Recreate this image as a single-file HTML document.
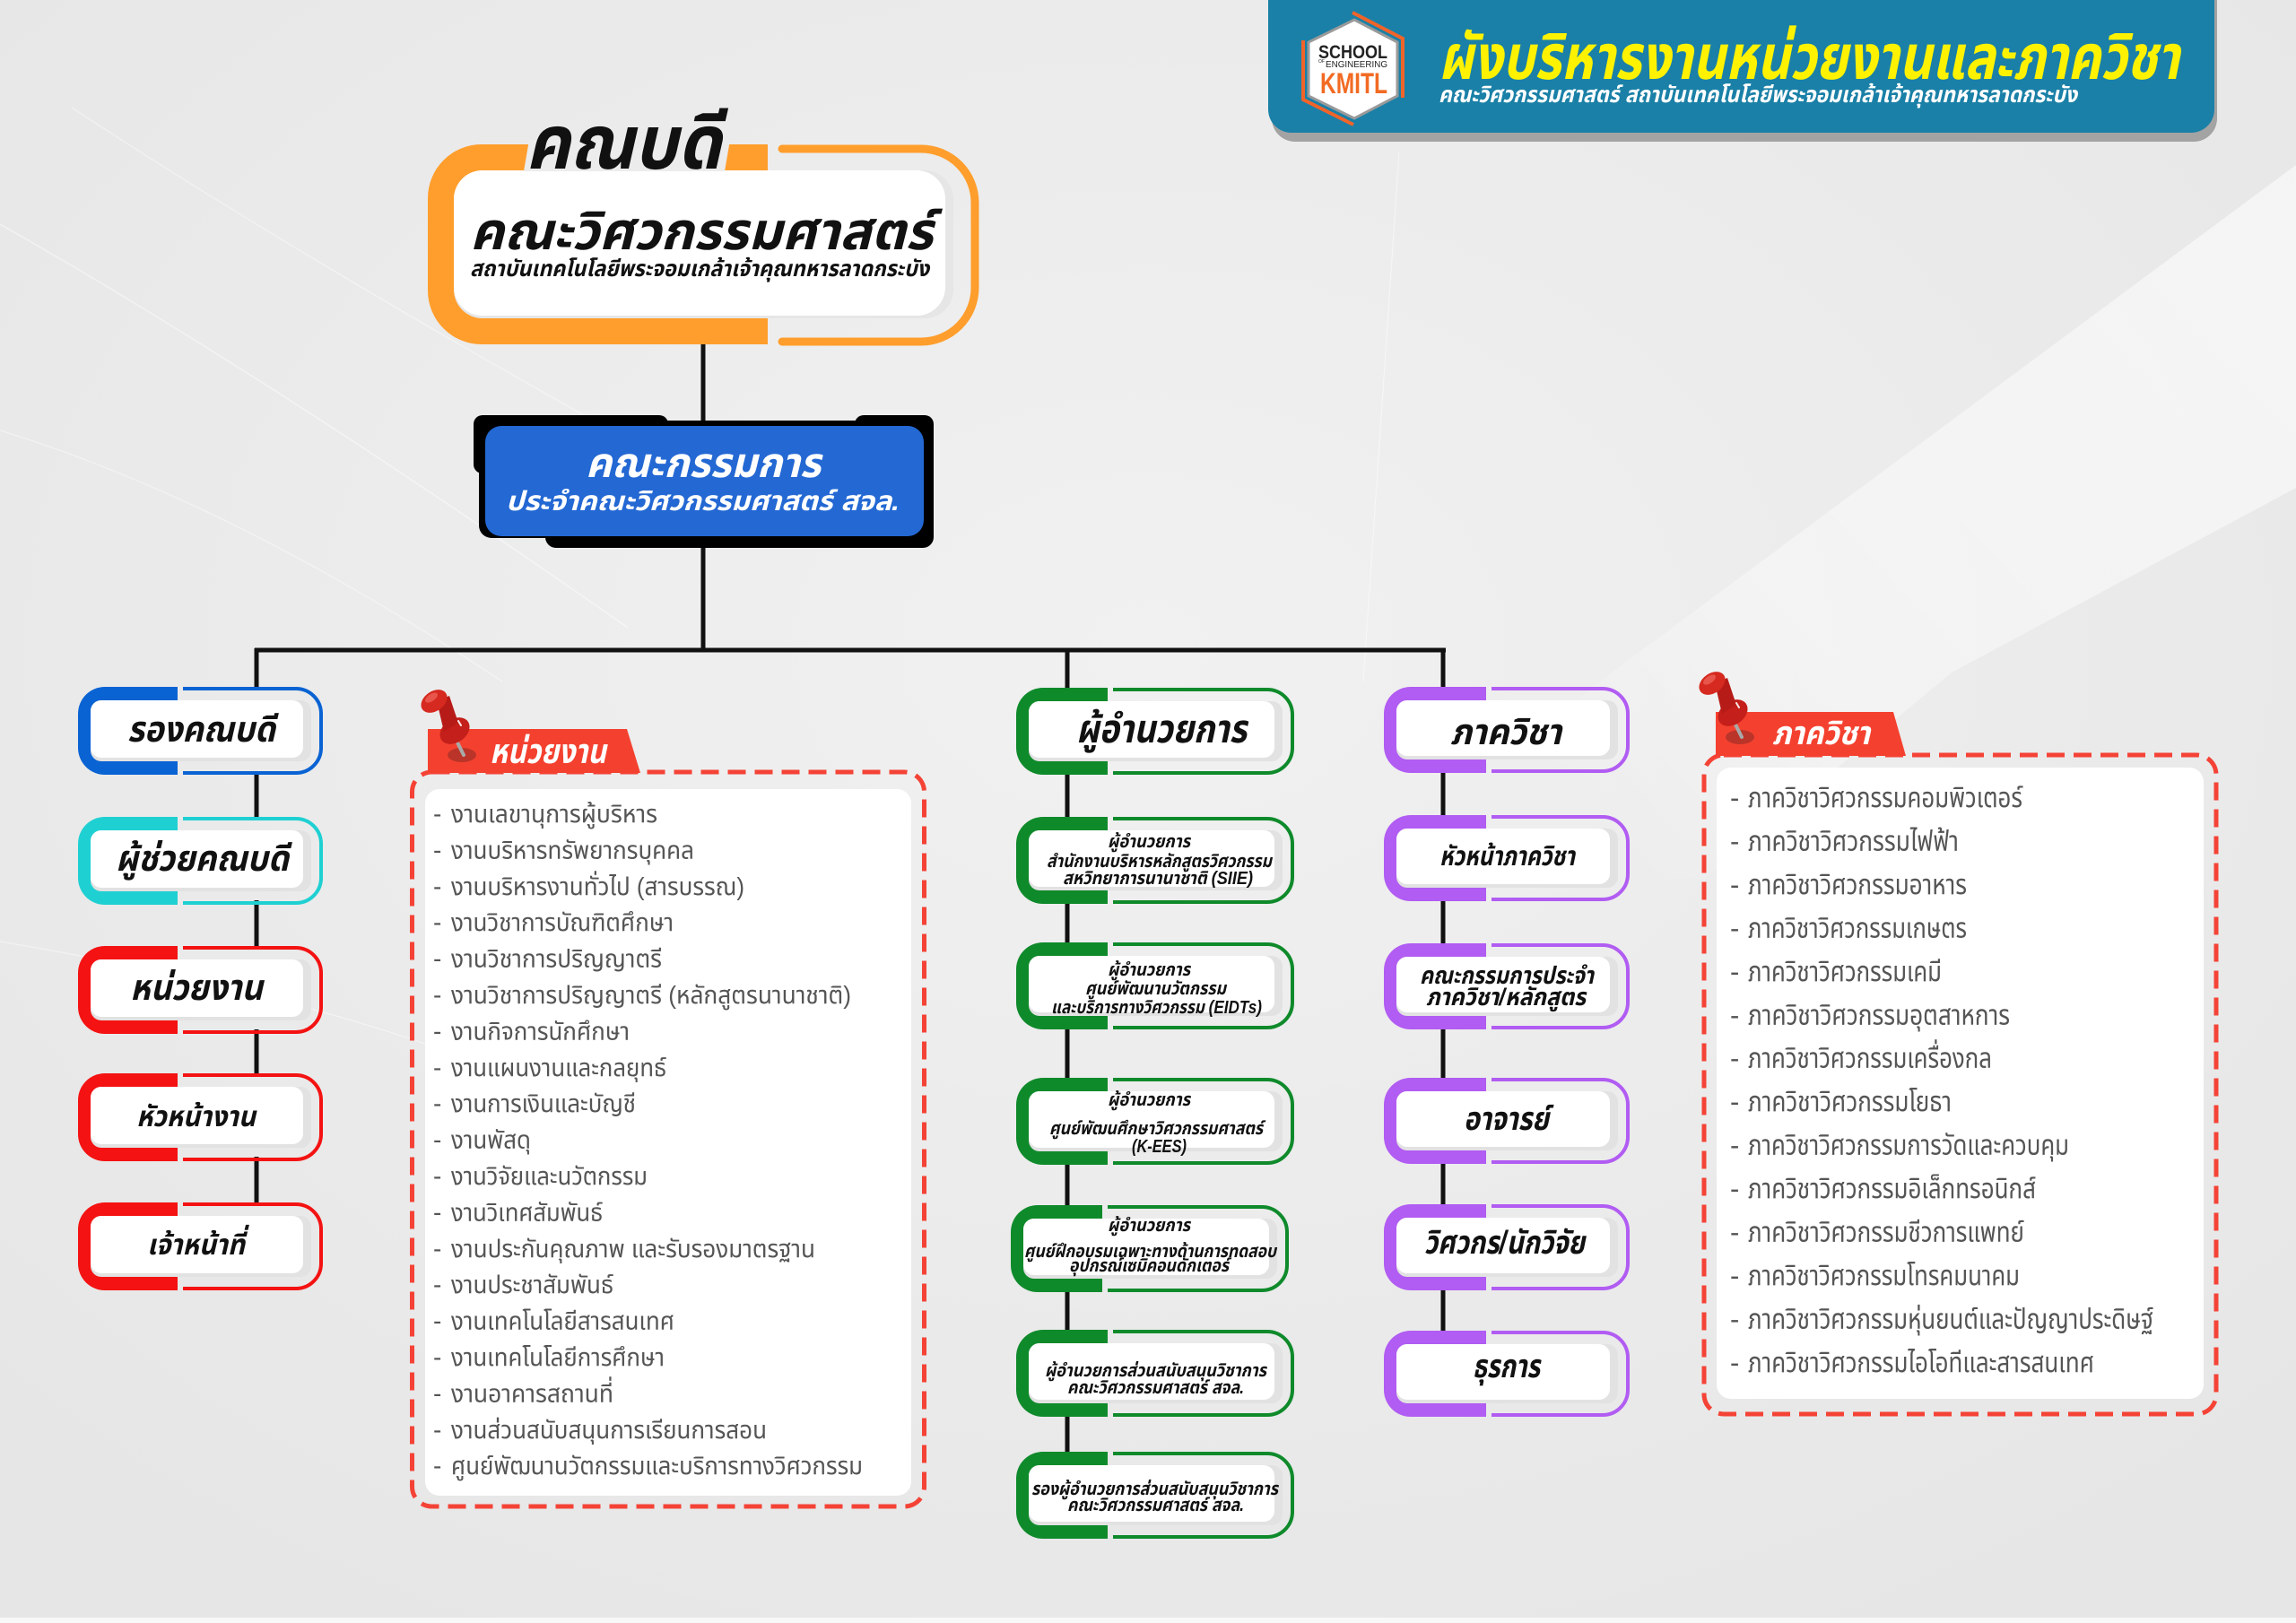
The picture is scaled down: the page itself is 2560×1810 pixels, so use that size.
<!DOCTYPE html>
<html lang="th">
<head>
<meta charset="utf-8">
<title>ผังบริหารงานหน่วยงานและภาควิชา</title>
<style>
  html,body{margin:0;padding:0;background:#ebebeb;}
  body{width:2560px;height:1810px;overflow:hidden;}
  svg{display:block;}
  .t{font-family:"Liberation Sans","Noto Sans Thai","Noto Sans Thai UI","Noto Looped Thai","Sarabun","Kanit","Garuda","Loma","Umpush","Tlwg Typo","Waree","Kinnari","Norasi","Laksaman","DejaVu Sans",sans-serif;}
  .b{font-weight:bold;font-style:italic;fill:#111;}
  .w{font-weight:bold;font-style:italic;fill:#fff;}
  .li{font-weight:normal;fill:#555;font-size:28px;}
  .ri{font-weight:normal;fill:#555;font-size:31px;}
</style>
</head>
<body>
<svg width="2560" height="1810" viewBox="0 0 2560 1810" xmlns="http://www.w3.org/2000/svg">
<defs>
  <radialGradient id="bgG" cx="0.5" cy="0.4" r="0.7">
    <stop offset="0" stop-color="#f1f1f1"/>
    <stop offset="1" stop-color="#e6e6e6"/>
  </radialGradient>
  <linearGradient id="bandG" gradientUnits="userSpaceOnUse" x1="2450" y1="250" x2="1750" y2="900">
    <stop offset="0" stop-color="#ffffff" stop-opacity="0.55"/>
    <stop offset="0.7" stop-color="#ffffff" stop-opacity="0.35"/>
    <stop offset="1" stop-color="#ffffff" stop-opacity="0"/>
  </linearGradient>
  <g id="boxL">
    <path d="M111 0 H30 A30 30 0 0 0 0 30 V68 A30 30 0 0 0 30 98 H111 Z" fill="currentColor"/>
    <path d="M117 2 H243 A28 28 0 0 1 271 30 V68 A28 28 0 0 1 243 96 H117" fill="none" stroke="currentColor" stroke-width="4"/>
    <rect x="14" y="15" width="246" height="68" rx="12" fill="#e2e2e2"/>
    <rect x="14" y="15" width="237" height="64" rx="12" fill="#fff"/>
  </g>
  <g id="boxD">
    <path d="M102 0 H30 A30 30 0 0 0 0 30 V67 A30 30 0 0 0 30 97 H102 Z" fill="currentColor"/>
    <path d="M108 2 H280 A28 28 0 0 1 308 30 V67 A28 28 0 0 1 280 95 H108" fill="none" stroke="currentColor" stroke-width="4"/>
    <rect x="14" y="15" width="283" height="67" rx="12" fill="#e2e2e2"/>
    <rect x="14" y="15" width="274" height="63" rx="12" fill="#fff"/>
  </g>
  <g id="boxP">
    <path d="M114 0 H30 A30 30 0 0 0 0 30 V66 A30 30 0 0 0 30 96 H114 Z" fill="currentColor"/>
    <path d="M120 2 H244 A28 28 0 0 1 272 30 V66 A28 28 0 0 1 244 94 H120" fill="none" stroke="currentColor" stroke-width="4"/>
    <rect x="14" y="15" width="247" height="66" rx="12" fill="#e2e2e2"/>
    <rect x="14" y="15" width="238" height="62" rx="12" fill="#fff"/>
  </g>
  <g id="pin">
    <ellipse cx="-2" cy="0" rx="16" ry="8" fill="#8a2a24" opacity="0.55"/>
    <line x1="0" y1="0" x2="-8" y2="-16" stroke="#a9a9a9" stroke-width="4" stroke-linecap="round"/>
    <ellipse cx="-10" cy="-27" rx="18" ry="13" transform="rotate(-35 -10 -27)" fill="#c41f1a"/>
    <path d="M-30 -60 L-16 -66 L-6 -36 L-22 -26 Z" fill="#b71b17"/>
    <ellipse cx="-33" cy="-60" rx="16" ry="11" transform="rotate(-35 -33 -60)" fill="#d6291f"/>
    <ellipse cx="-36" cy="-64" rx="8" ry="4" transform="rotate(-35 -36 -64)" fill="#e8554a"/>
    <line x1="-6" y1="-38" x2="-3" y2="-33" stroke="#fff" stroke-width="2" stroke-linecap="round" opacity="0.9"/>
  </g>
</defs>

<!-- background -->
<rect x="0" y="0" width="2560" height="1810" fill="url(#bgG)"/>
<polygon points="2560,184 1797,750 1500,980 1900,980 2176,750 2560,544" fill="url(#bandG)"/>
<g stroke="#ffffff" fill="none" opacity="0.45">
  <path d="M0 250 Q300 420 700 700" stroke-width="1.5"/>
  <path d="M0 480 Q260 560 560 760" stroke-width="1.2"/>
  <path d="M80 120 Q400 330 900 600" stroke-width="1.2"/>
  <path d="M0 1050 Q300 1100 520 1180" stroke-width="1.2"/>
  <path d="M1560 170 L1520 760" stroke-width="1.2"/>
</g>
<rect x="0" y="1804" width="2560" height="6" fill="#f8f8f8"/>

<!-- header -->
<rect x="1418" y="-40" width="1054" height="198" rx="26" fill="#a3a3a3"/>
<rect x="1414" y="-40" width="1055" height="188" rx="26" fill="#1a80a7"/>
<polygon points="1510,22 1558,47 1558,107 1510,132 1459,107 1459,47" fill="#fff" stroke="#9a9a9a" stroke-width="3"/>
<polyline points="1508,14 1564,43 1564,109" fill="none" stroke="#f0642a" stroke-width="4"/>
<polyline points="1453,45 1453,111 1509,139" fill="none" stroke="#f0642a" stroke-width="4"/>
<text class="t" x="1470" y="65" font-size="21" font-weight="bold" fill="#222" textLength="77" lengthAdjust="spacingAndGlyphs">SCHOOL</text>
<text class="t" x="1470" y="70" font-size="5" fill="#222">OF</text>
<text class="t" x="1478" y="75" font-size="10" fill="#222" textLength="69" lengthAdjust="spacingAndGlyphs">ENGINEERING</text>
<text class="t" x="1472" y="104" font-size="32" font-weight="bold" fill="#f26a23" textLength="75" lengthAdjust="spacingAndGlyphs">KMITL</text>
<text class="t" x="1604" y="88" font-size="70" font-weight="bold" font-style="italic" fill="#fff200" textLength="826" lengthAdjust="spacingAndGlyphs">ผังบริหารงานหน่วยงานและภาควิชา</text>
<text class="t w" x="1604" y="114" font-size="25" textLength="712" lengthAdjust="spacingAndGlyphs">คณะวิศวกรรมศาสตร์ สถาบันเทคโนโลยีพระจอมเกล้าเจ้าคุณทหารลาดกระบัง</text>

<!-- connectors -->
<g stroke="#111" stroke-width="5" fill="none">
  <line x1="784" y1="380" x2="784" y2="470"/>
  <line x1="784" y1="605" x2="784" y2="727"/>
  <line x1="284" y1="725" x2="1612" y2="725"/>
  <!-- left column segments -->
  <line x1="286" y1="723" x2="286" y2="770"/>
  <line x1="286" y1="860" x2="286" y2="915"/>
  <line x1="286" y1="1004" x2="286" y2="1059"/>
  <line x1="286" y1="1148" x2="286" y2="1201"/>
  <line x1="286" y1="1290" x2="286" y2="1345"/>
  <!-- director column segments -->
  <line x1="1190" y1="723" x2="1190" y2="771"/>
  <line x1="1190" y1="860" x2="1190" y2="915"/>
  <line x1="1190" y1="1004" x2="1190" y2="1055"/>
  <line x1="1190" y1="1144" x2="1190" y2="1206"/>
  <line x1="1190" y1="1295" x2="1190" y2="1348"/>
  <line x1="1190" y1="1437" x2="1190" y2="1487"/>
  <line x1="1190" y1="1576" x2="1190" y2="1623"/>
  <!-- department column segments -->
  <line x1="1609" y1="723" x2="1609" y2="770"/>
  <line x1="1609" y1="858" x2="1609" y2="913"/>
  <line x1="1609" y1="1001" x2="1609" y2="1056"/>
  <line x1="1609" y1="1144" x2="1609" y2="1206"/>
  <line x1="1609" y1="1294" x2="1609" y2="1347"/>
  <line x1="1609" y1="1435" x2="1609" y2="1488"/>
</g>

<!-- Dean box -->
<path d="M856 161 H537 A60 60 0 0 0 477 221 V324 A60 60 0 0 0 537 384 H856 Z" fill="#ff9e2c"/>
<path d="M872 166 H1027 A60 60 0 0 1 1087 226 V321 A60 60 0 0 1 1027 381 H872" fill="none" stroke="#ff9e2c" stroke-width="9" stroke-linecap="round"/>
<rect x="506" y="190" width="557" height="165" rx="32" fill="#e6e6e6"/>
<rect x="506" y="190" width="548" height="162" rx="32" fill="#fff"/>
<polygon points="590,156 814,156 808,191 584,191" fill="#ececec"/>
<text class="t b" x="586" y="188" font-size="84" textLength="218" lengthAdjust="spacingAndGlyphs">คณบดี</text>
<text class="t b" x="524" y="278" font-size="58" textLength="516" lengthAdjust="spacingAndGlyphs">คณะวิศวกรรมศาสตร์</text>
<text class="t b" x="524" y="308" font-size="25" textLength="512" lengthAdjust="spacingAndGlyphs">สถาบันเทคโนโลยีพระจอมเกล้าเจ้าคุณทหารลาดกระบัง</text>

<!-- Committee box -->
<rect x="534" y="469" width="507" height="131" rx="14" fill="#000"/>
<rect x="528" y="463" width="217" height="65" rx="10" fill="#000"/>
<rect x="953" y="463" width="88" height="60" rx="10" fill="#000"/>
<rect x="608" y="560" width="433" height="51" rx="12" fill="#000"/>
<rect x="541" y="475" width="489" height="123" rx="18" fill="#2368d3"/>
<text class="t w" x="653" y="532" font-size="46" textLength="262" lengthAdjust="spacingAndGlyphs">คณะกรรมการ</text>
<text class="t w" x="564" y="569" font-size="30" textLength="439" lengthAdjust="spacingAndGlyphs">ประจำคณะวิศวกรรมศาสตร์ สจล.</text>

<!-- Left column -->
<use href="#boxL" x="87" y="766" style="color:#0a63d3"/>
<use href="#boxL" x="87" y="911" style="color:#1fd0d2"/>
<use href="#boxL" x="87" y="1055" style="color:#f41212"/>
<use href="#boxL" x="87" y="1197" style="color:#f41212"/>
<use href="#boxL" x="87" y="1341" style="color:#f41212"/>
<text class="t b" x="142" y="827" font-size="40" textLength="165" lengthAdjust="spacingAndGlyphs">รองคณบดี</text>
<text class="t b" x="129" y="971" font-size="40" textLength="193" lengthAdjust="spacingAndGlyphs">ผู้ช่วยคณบดี</text>
<text class="t b" x="145" y="1115" font-size="40" textLength="148" lengthAdjust="spacingAndGlyphs">หน่วยงาน</text>
<text class="t b" x="152" y="1256" font-size="32" textLength="133" lengthAdjust="spacingAndGlyphs">หัวหน้างาน</text>
<text class="t b" x="164" y="1399" font-size="32" textLength="109" lengthAdjust="spacingAndGlyphs">เจ้าหน้าที่</text>

<!-- Units panel -->
<rect x="459.5" y="861" width="571" height="819" rx="22" fill="none" stroke="#f44336" stroke-width="5" stroke-dasharray="20 10"/>
<rect x="474" y="880" width="542" height="788" rx="16" fill="#fff"/>
<polygon points="477,813 699,813 714,862 477,862" fill="#f4412f"/>
<use href="#pin" x="517" y="842"/>
<text class="t w" x="546" y="851" font-size="38" textLength="130" lengthAdjust="spacingAndGlyphs">หน่วยงาน</text>

<g class="t li">
<text x="483" y="917">-</text><text x="503" y="917" textLength="230" lengthAdjust="spacingAndGlyphs">งานเลขานุการผู้บริหาร</text>
<text x="483" y="957.4">-</text><text x="503" y="957.4" textLength="271" lengthAdjust="spacingAndGlyphs">งานบริหารทรัพยากรบุคคล</text>
<text x="483" y="997.8">-</text><text x="503" y="997.8" textLength="327" lengthAdjust="spacingAndGlyphs">งานบริหารงานทั่วไป (สารบรรณ)</text>
<text x="483" y="1038.2">-</text><text x="503" y="1038.2" textLength="248" lengthAdjust="spacingAndGlyphs">งานวิชาการบัณฑิตศึกษา</text>
<text x="483" y="1078.6">-</text><text x="503" y="1078.6" textLength="235" lengthAdjust="spacingAndGlyphs">งานวิชาการปริญญาตรี</text>
<text x="483" y="1119">-</text><text x="503" y="1119" textLength="446" lengthAdjust="spacingAndGlyphs">งานวิชาการปริญญาตรี (หลักสูตรนานาชาติ)</text>
<text x="483" y="1159.4">-</text><text x="503" y="1159.4" textLength="199" lengthAdjust="spacingAndGlyphs">งานกิจการนักศึกษา</text>
<text x="483" y="1199.8">-</text><text x="503" y="1199.8" textLength="240" lengthAdjust="spacingAndGlyphs">งานแผนงานและกลยุทธ์</text>
<text x="483" y="1240.2">-</text><text x="503" y="1240.2" textLength="206" lengthAdjust="spacingAndGlyphs">งานการเงินและบัญชี</text>
<text x="483" y="1280.6">-</text><text x="503" y="1280.6" textLength="89" lengthAdjust="spacingAndGlyphs">งานพัสดุ</text>
<text x="483" y="1321">-</text><text x="503" y="1321" textLength="219" lengthAdjust="spacingAndGlyphs">งานวิจัยและนวัตกรรม</text>
<text x="483" y="1361.4">-</text><text x="503" y="1361.4" textLength="169" lengthAdjust="spacingAndGlyphs">งานวิเทศสัมพันธ์</text>
<text x="483" y="1401.8">-</text><text x="503" y="1401.8" textLength="406" lengthAdjust="spacingAndGlyphs">งานประกันคุณภาพ และรับรองมาตรฐาน</text>
<text x="483" y="1442.2">-</text><text x="503" y="1442.2" textLength="181" lengthAdjust="spacingAndGlyphs">งานประชาสัมพันธ์</text>
<text x="483" y="1482.6">-</text><text x="503" y="1482.6" textLength="249" lengthAdjust="spacingAndGlyphs">งานเทคโนโลยีสารสนเทศ</text>
<text x="483" y="1523">-</text><text x="503" y="1523" textLength="238" lengthAdjust="spacingAndGlyphs">งานเทคโนโลยีการศึกษา</text>
<text x="483" y="1563.4">-</text><text x="503" y="1563.4" textLength="181" lengthAdjust="spacingAndGlyphs">งานอาคารสถานที่</text>
<text x="483" y="1603.8">-</text><text x="503" y="1603.8" textLength="352" lengthAdjust="spacingAndGlyphs">งานส่วนสนับสนุนการเรียนการสอน</text>
<text x="483" y="1644.2">-</text><text x="503" y="1644.2" textLength="459" lengthAdjust="spacingAndGlyphs">ศูนย์พัฒนานวัตกรรมและบริการทางวิศวกรรม</text>
</g>

<!-- Director column -->
<use href="#boxD" x="1133" y="767" style="color:#0f8a2b"/>
<use href="#boxD" x="1133" y="911" style="color:#0f8a2b"/>
<use href="#boxD" x="1133" y="1051" style="color:#0f8a2b"/>
<use href="#boxD" x="1133" y="1202" style="color:#0f8a2b"/>
<use href="#boxD" x="1127" y="1344" style="color:#0f8a2b"/>
<use href="#boxD" x="1133" y="1483" style="color:#0f8a2b"/>
<use href="#boxD" x="1133" y="1619" style="color:#0f8a2b"/>

<text class="t b" x="1200" y="828" font-size="44" textLength="190" lengthAdjust="spacingAndGlyphs">ผู้อำนวยการ</text>
<g class="t b" font-size="20">
<text x="1235" y="945" textLength="92" lengthAdjust="spacingAndGlyphs">ผู้อำนวยการ</text>
<text x="1167" y="967" textLength="251" lengthAdjust="spacingAndGlyphs">สำนักงานบริหารหลักสูตรวิศวกรรม</text>
<text x="1185" y="986" textLength="212" lengthAdjust="spacingAndGlyphs">สหวิทยาการนานาชาติ (SIIE)</text>

<text x="1235" y="1088" textLength="92" lengthAdjust="spacingAndGlyphs">ผู้อำนวยการ</text>
<text x="1210" y="1109" textLength="157" lengthAdjust="spacingAndGlyphs">ศูนย์พัฒนานวัตกรรม</text>
<text x="1172" y="1130" textLength="235" lengthAdjust="spacingAndGlyphs">และบริการทางวิศวกรรม (EIDTs)</text>

<text x="1235" y="1233" textLength="92" lengthAdjust="spacingAndGlyphs">ผู้อำนวยการ</text>
<text x="1170" y="1265" textLength="238" lengthAdjust="spacingAndGlyphs">ศูนย์พัฒนศึกษาวิศวกรรมศาสตร์</text>
<text x="1262" y="1285" textLength="61" lengthAdjust="spacingAndGlyphs">(K-EES)</text>

<text x="1235" y="1373" textLength="92" lengthAdjust="spacingAndGlyphs">ผู้อำนวยการ</text>
<text x="1142" y="1402" textLength="281" lengthAdjust="spacingAndGlyphs">ศูนย์ฝึกอบรมเฉพาะทางด้านการทดสอบ</text>
<text x="1192" y="1418" textLength="178" lengthAdjust="spacingAndGlyphs">อุปกรณ์เซมิคอนดักเตอร์</text>

<text x="1165" y="1535" textLength="247" lengthAdjust="spacingAndGlyphs">ผู้อำนวยการส่วนสนับสนุนวิชาการ</text>
<text x="1190" y="1554" textLength="197" lengthAdjust="spacingAndGlyphs">คณะวิศวกรรมศาสตร์ สจล.</text>

<text x="1150" y="1667" textLength="275" lengthAdjust="spacingAndGlyphs">รองผู้อำนวยการส่วนสนับสนุนวิชาการ</text>
<text x="1190" y="1685" textLength="197" lengthAdjust="spacingAndGlyphs">คณะวิศวกรรมศาสตร์ สจล.</text>
</g>

<!-- Department column -->
<use href="#boxP" x="1543" y="766" style="color:#b15cf2"/>
<use href="#boxP" x="1543" y="909" style="color:#b15cf2"/>
<use href="#boxP" x="1543" y="1052" style="color:#b15cf2"/>
<use href="#boxP" x="1543" y="1202" style="color:#b15cf2"/>
<use href="#boxP" x="1543" y="1343" style="color:#b15cf2"/>
<use href="#boxP" x="1543" y="1484" style="color:#b15cf2"/>
<text class="t b" x="1617" y="830" font-size="40" textLength="124" lengthAdjust="spacingAndGlyphs">ภาควิชา</text>
<text class="t b" x="1605" y="965" font-size="30" textLength="151" lengthAdjust="spacingAndGlyphs">หัวหน้าภาควิชา</text>
<text class="t b" x="1583" y="1097" font-size="27" textLength="194" lengthAdjust="spacingAndGlyphs">คณะกรรมการประจำ</text>
<text class="t b" x="1590" y="1121" font-size="27" textLength="178" lengthAdjust="spacingAndGlyphs">ภาควิชา/หลักสูตร</text>
<text class="t b" x="1632" y="1260" font-size="36" textLength="95" lengthAdjust="spacingAndGlyphs">อาจารย์</text>
<text class="t b" x="1588" y="1398" font-size="36" textLength="179" lengthAdjust="spacingAndGlyphs">วิศวกร/นักวิจัย</text>
<text class="t b" x="1642" y="1536" font-size="36" textLength="75" lengthAdjust="spacingAndGlyphs">ธุรการ</text>

<!-- Departments panel -->
<rect x="1900" y="842" width="571" height="735" rx="22" fill="none" stroke="#f44336" stroke-width="5" stroke-dasharray="20 10"/>
<rect x="1914" y="856" width="543" height="704" rx="16" fill="#fff"/>
<polygon points="1913,794 2111,794 2125,843 1913,843" fill="#f4412f"/>
<use href="#pin" x="1942" y="822"/>
<text class="t w" x="1976" y="830" font-size="36" textLength="109" lengthAdjust="spacingAndGlyphs">ภาควิชา</text>

<g class="t ri">
<text x="1929" y="900">-</text><text x="1949" y="900" textLength="306" lengthAdjust="spacingAndGlyphs">ภาควิชาวิศวกรรมคอมพิวเตอร์</text>
<text x="1929" y="948.5">-</text><text x="1949" y="948.5" textLength="235" lengthAdjust="spacingAndGlyphs">ภาควิชาวิศวกรรมไฟฟ้า</text>
<text x="1929" y="996.9">-</text><text x="1949" y="996.9" textLength="244" lengthAdjust="spacingAndGlyphs">ภาควิชาวิศวกรรมอาหาร</text>
<text x="1929" y="1045.4">-</text><text x="1949" y="1045.4" textLength="244" lengthAdjust="spacingAndGlyphs">ภาควิชาวิศวกรรมเกษตร</text>
<text x="1929" y="1093.8">-</text><text x="1949" y="1093.8" textLength="216" lengthAdjust="spacingAndGlyphs">ภาควิชาวิศวกรรมเคมี</text>
<text x="1929" y="1142.3">-</text><text x="1949" y="1142.3" textLength="292" lengthAdjust="spacingAndGlyphs">ภาควิชาวิศวกรรมอุตสาหการ</text>
<text x="1929" y="1190.7">-</text><text x="1949" y="1190.7" textLength="272" lengthAdjust="spacingAndGlyphs">ภาควิชาวิศวกรรมเครื่องกล</text>
<text x="1929" y="1239.2">-</text><text x="1949" y="1239.2" textLength="227" lengthAdjust="spacingAndGlyphs">ภาควิชาวิศวกรรมโยธา</text>
<text x="1929" y="1287.6">-</text><text x="1949" y="1287.6" textLength="358" lengthAdjust="spacingAndGlyphs">ภาควิชาวิศวกรรมการวัดและควบคุม</text>
<text x="1929" y="1336.1">-</text><text x="1949" y="1336.1" textLength="321" lengthAdjust="spacingAndGlyphs">ภาควิชาวิศวกรรมอิเล็กทรอนิกส์</text>
<text x="1929" y="1384.5">-</text><text x="1949" y="1384.5" textLength="308" lengthAdjust="spacingAndGlyphs">ภาควิชาวิศวกรรมชีวการแพทย์</text>
<text x="1929" y="1433">-</text><text x="1949" y="1433" textLength="303" lengthAdjust="spacingAndGlyphs">ภาควิชาวิศวกรรมโทรคมนาคม</text>
<text x="1929" y="1481.4">-</text><text x="1949" y="1481.4" textLength="452" lengthAdjust="spacingAndGlyphs">ภาควิชาวิศวกรรมหุ่นยนต์และปัญญาประดิษฐ์</text>
<text x="1929" y="1529.9">-</text><text x="1949" y="1529.9" textLength="386" lengthAdjust="spacingAndGlyphs">ภาควิชาวิศวกรรมไอโอทีและสารสนเทศ</text>
</g>
</svg>
</body>
</html>
